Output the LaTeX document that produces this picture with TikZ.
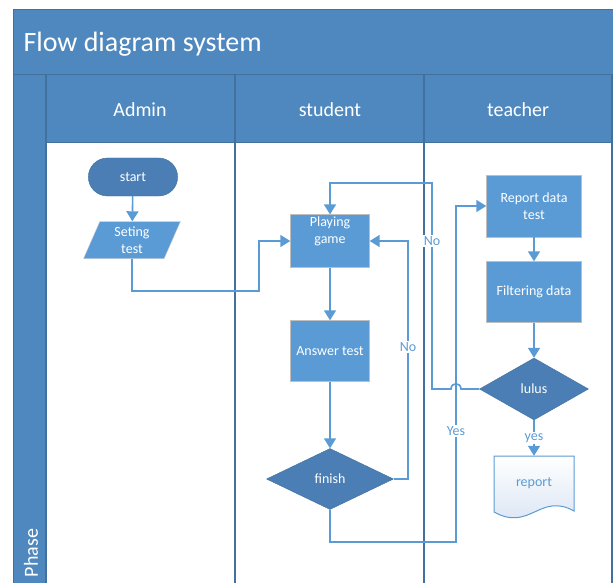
\documentclass[tikz,border=0pt]{standalone}
\usepackage{fontspec}
\setmainfont{Carlito}
\usepackage{tikz}
\usetikzlibrary{shapes,arrows.meta,positioning,calc}

\definecolor{laneblue}{RGB}{79,136,190}
\definecolor{laneline}{RGB}{65,113,156}
\definecolor{darknode}{RGB}{74,126,180}
\definecolor{boxblue}{RGB}{91,155,213}
\definecolor{flowblue}{RGB}{91,155,213}
\definecolor{docblue}{RGB}{214,226,243}

\begin{document}
\begin{tikzpicture}[x=1pt, y=-1pt,
    nodefont/.style={font=\fontsize{14}{17}\selectfont},
    terminal/.style={rounded rectangle, draw=laneline, fill=darknode, text=white, nodefont, minimum width=96pt, minimum height=38pt},
    inout/.style={trapezium, trapezium left angle=72, trapezium right angle=108, trapezium stretches=true, draw=black!20, fill=boxblue, text=white, nodefont, align=center, minimum width=97pt, minimum height=37pt, inner sep=1pt},
    proc/.style={rectangle, draw=black!25, fill=boxblue, text=white, nodefont, align=center, inner sep=2pt},
    decision/.style={diamond, draw=laneline, fill=darknode, text=white, nodefont, inner sep=0pt},
    flow/.style={draw=flowblue, line width=1.6pt, -{Triangle[length=10pt,width=12pt]}},
    lbl/.style={fill=white, text=flowblue, nodefont, inner sep=1pt}]
    \useasboundingbox (0,0) rectangle (613,583);

    % Swimlane frame
    \fill[laneblue] (13,10) rectangle (613,143);
    \fill[laneblue] (13,143) rectangle (46,583);
    \draw[laneline, line width=1pt] (13,583) -- (13,10) -- (613,10);
    \draw[laneline, line width=1pt] (13,75) -- (613,75);
    \draw[laneline, line width=1pt] (46,143) -- (612,143);
    \foreach \x in {46,235,424,612}
        \draw[laneline, line width=1.5pt] (\x,75) -- (\x,583);
    \node[anchor=west, text=white, font=\fontsize{28}{32}\selectfont] (title) at (20,44) {Flow diagram system};
    \node[text=white, font=\fontsize{20}{24}\selectfont] (hadmin) at (140,110) {Admin};
    \node[text=white, font=\fontsize{20}{24}\selectfont] (hstudent) at (330,110) {student};
    \node[text=white, font=\fontsize{20}{24}\selectfont] (hteacher) at (518,110) {teacher};
    \node[text=white, rotate=90, font=\fontsize{20}{24}\selectfont] (phase) at (31,553) {Phase};

    % Admin lane
    \node[terminal] (start) at (133,177) {start};
    \node[inout] (seting) at (132,240) {Seting\\test};

    % Student lane
    \node[proc, minimum width=79pt, minimum height=50pt] (play) at (330,241) {Playing\\game\\\strut};
    \node[proc, minimum width=79pt, minimum height=61pt] (answer) at (330,351) {Answer test};
    \node[decision, minimum width=127pt, minimum height=61pt] (finish) at (330,479) {finish};

    % Teacher lane
    \node[proc, minimum width=95pt, minimum height=62pt] (rdata) at (534,206) {Report data\\test};
    \node[proc, minimum width=95pt, minimum height=61pt] (filter) at (534,292) {Filtering data};
    \node[decision, minimum width=109pt, minimum height=62pt] (lulus) at (534,389) {lulus};
    \draw[draw=flowblue, line width=1pt, top color=white, bottom color=docblue]
        (494,456) -- (574,456) -- (574,511) .. controls (540,492) and (530,532) .. (494,512) -- cycle;
    \node[text=flowblue, nodefont, minimum width=80pt, minimum height=54pt] (report) at (534,483) {report};

    % Connectors
    \draw[flow] (start) -- (seting);
    \draw[flow] (seting.south) |- (259,291) |- (play.west);
    \draw[flow] (play) -- (answer);
    \draw[flow] (answer) -- (finish);
    \draw[flow] (finish.east) -| (408,241) -- (play.east);
    \node[lbl] (no1) at (408,347) {No};
    \draw[flow] (finish.south) |- (456,542) |- (rdata.west);
    \node[lbl] (yes1) at (456,431) {Yes};
    \draw[flow] (rdata) -- (filter);
    \draw[flow] (filter) -- (lulus);
    \draw[flow] (lulus.west) -- (461,389) .. controls (461,382) and (451,382) .. (451,389)
        -- (432,389) -- (432,183) -| (play.north);
    \node[lbl] (no2) at (432,241) {No};
    \draw[flow] (lulus.south) -- (report.north);
    \node[lbl] (yes2) at (534,438) {yes};
\end{tikzpicture}
\end{document}
